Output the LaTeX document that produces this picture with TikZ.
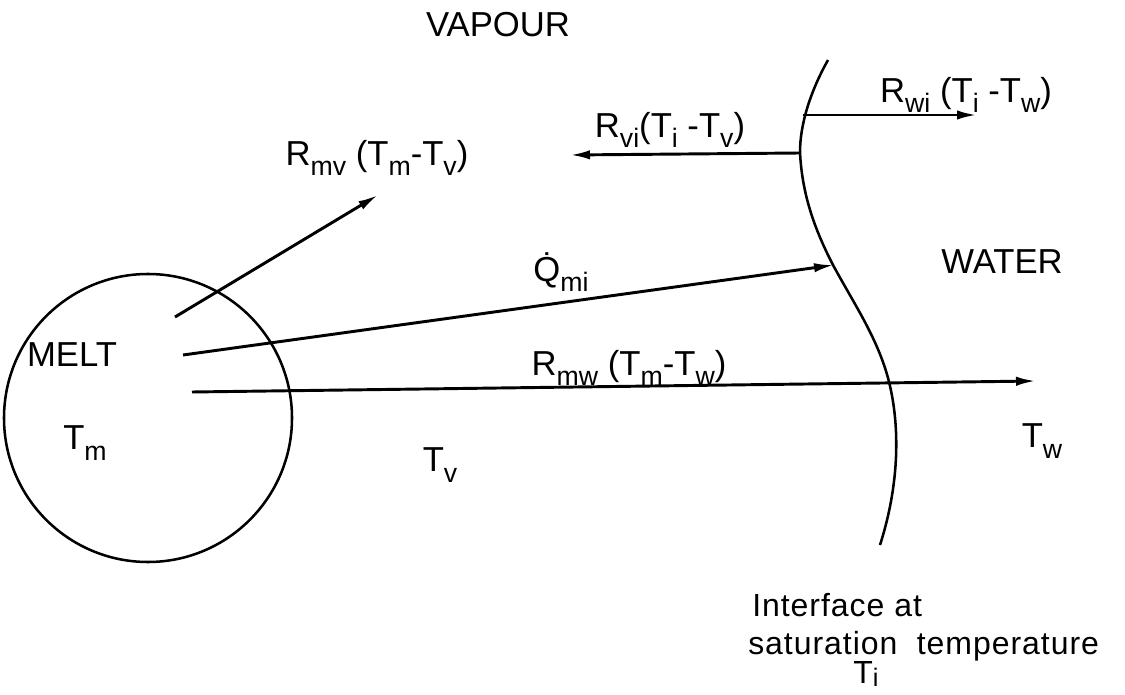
\documentclass[tikz,border=0pt]{standalone}
\usepackage{fontspec}
\setmainfont{Liberation Sans}
\usepackage{tikz}
\usetikzlibrary{arrows.meta}

\newcommand{\idx}[1]{\raisebox{-0.3em}{\fontsize{20}{20}\selectfont #1}}

\begin{document}
\begin{tikzpicture}[x=0.75pt,y=0.75pt,yscale=-1,xscale=1,
  lbl/.style={inner sep=0.75pt,font=\fontsize{26}{30}\selectfont},
  note/.style={inner sep=0pt,font=\fontsize{24}{28}\selectfont\addfontfeatures{LetterSpace=3}},
  flow/.style={line width=2.2pt,-{Latex[length=15pt,width=7pt]}},
  edge/.style={line width=1.9pt}]
\useasboundingbox (0,0) rectangle (1125,695);

%Shape: Circle [melt]
\node [edge,draw,circle,minimum size=216pt,inner sep=0pt] (melt) at (148,418) {};

%Curve Lines [interface]
\draw [edge] (828,60) .. controls (810,92) and (800,125) .. (800,152) .. controls (802,195) and (815,230) .. (833,265) .. controls (852,300) and (872,330) .. (884,365) .. controls (898,405) and (904,470) .. (880,545) ;

% free ends of the arrows
\coordinate (mvA) at (175,317);
\coordinate (mvB) at (378,195);
\coordinate (miA) at (183,355);
\coordinate (miB) at (834,265);
\coordinate (mwA) at (192,392);
\coordinate (mwB) at (1036,381);
\coordinate (viA) at (800,153);
\coordinate (viB) at (570,155);
\coordinate (wiA) at (803,115);
\coordinate (wiB) at (977,115);

%Straight Lines
\draw [flow] (mvA) -- (mvB) ;
\draw [flow] (miA) -- (miB) ;
\draw [flow] (mwA) -- (mwB) ;
\draw [flow] (viA) -- (viB) ;
\draw [flow] (wiA) -- (wiB) ;

% Text Node
\node [lbl] (vapour) at (498,25) {VAPOUR};
% Text Node
\node [lbl] (water) at (1002,262) {WATER};
% Text Node
\node [lbl] (meltlbl) at (72,355) {MELT};
% Text Node
\node [lbl] (tm) at (85,443) {T\idx{m}};
% Text Node
\node [lbl] (tv) at (440,465) {T\idx{v}};
% Text Node
\node [lbl] (tw) at (1042,441) {T\idx{w}};
% Text Node
\node [lbl] (rmv) at (377,158) {R\idx{mv} (T\idx{m}-T\idx{v})};
% Text Node
\node [lbl] (qmi) at (561,272) {\.{Q}\idx{mi}};
% Text Node
\node [lbl] (rmw) at (629,368) {R\idx{mw} (T\idx{m}-T\idx{w})};
% Text Node
\node [lbl] (rvi) at (670,130) {R\idx{vi}(T\idx{i} -T\idx{v})};
% Text Node
\node [lbl] (rwi) at (966,95) {R\idx{wi} (T\idx{i} -T\idx{w})};
% Text Node
\node [note,anchor=base west] (iface) at (752,616) {Interface at};
% Text Node
\node [note,anchor=base west] (sat) at (748,654) {saturation\hspace{0.3em} temperature};
% Text Node
\node [note,anchor=base] (ti) at (866,683) {T\raisebox{-0.12em}{\fontsize{19}{19}\selectfont i}};

\end{tikzpicture}
\end{document}
